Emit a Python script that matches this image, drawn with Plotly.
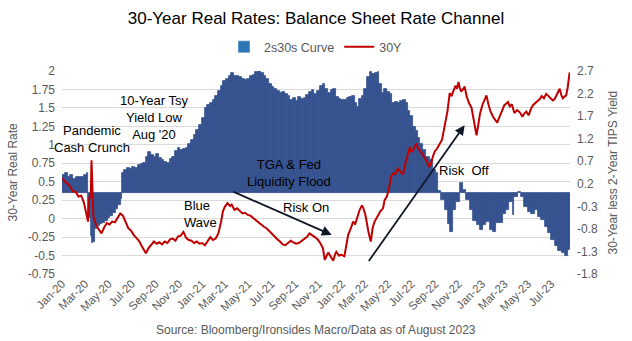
import pandas as pd
import plotly.graph_objects as go

# ---------------- data ----------------
curve_dates = [
    "2020-01-02","2020-01-09","2020-01-16","2020-01-23","2020-01-30","2020-02-06","2020-02-13","2020-02-20",
    "2020-02-27","2020-03-05","2020-03-10","2020-03-16","2020-03-19","2020-03-23","2020-03-27","2020-04-01",
    "2020-04-08","2020-04-15","2020-04-22","2020-04-29","2020-05-06","2020-05-13","2020-05-20","2020-05-27",
    "2020-06-02","2020-06-05","2020-06-12","2020-06-19","2020-06-26","2020-07-03","2020-07-10","2020-07-17",
    "2020-07-24","2020-07-31","2020-08-07","2020-08-13","2020-08-20","2020-08-27","2020-09-03","2020-09-10",
    "2020-09-17","2020-09-24","2020-10-01","2020-10-08","2020-10-15","2020-10-22","2020-10-29","2020-11-05",
    "2020-11-12","2020-11-19","2020-11-26","2020-12-03","2020-12-10","2020-12-17","2020-12-24","2020-12-31",
    "2021-01-07","2021-01-14","2021-01-21","2021-01-28","2021-02-04","2021-02-11","2021-02-18","2021-02-25",
    "2021-03-04","2021-03-11","2021-03-18","2021-03-25","2021-04-01","2021-04-08","2021-04-15","2021-04-22",
    "2021-04-29","2021-05-06","2021-05-13","2021-05-20","2021-05-27","2021-06-03","2021-06-10","2021-06-17",
    "2021-06-24","2021-07-01","2021-07-08","2021-07-15","2021-07-22","2021-07-29","2021-08-05","2021-08-12",
    "2021-08-19","2021-08-26","2021-09-02","2021-09-09","2021-09-16","2021-09-23","2021-09-30","2021-10-07",
    "2021-10-14","2021-10-21","2021-10-28","2021-11-04","2021-11-11","2021-11-18","2021-11-25","2021-12-02",
    "2021-12-09","2021-12-16","2021-12-23","2021-12-30","2022-01-06","2022-01-13","2022-01-20","2022-01-27",
    "2022-02-03","2022-02-08","2022-02-14","2022-02-21","2022-02-28","2022-03-06","2022-03-14","2022-03-21",
    "2022-03-28","2022-04-04","2022-04-08","2022-04-14","2022-04-21","2022-04-28","2022-05-05","2022-05-12",
    "2022-05-19","2022-05-26","2022-06-02","2022-06-09","2022-06-16","2022-06-23","2022-06-27","2022-07-05",
    "2022-07-12","2022-07-19","2022-07-23","2022-07-31","2022-08-09","2022-08-18","2022-08-26","2022-09-02",
    "2022-09-08","2022-09-17","2022-09-26","2022-10-05","2022-10-09","2022-10-18","2022-10-26","2022-11-04",
    "2022-11-13","2022-11-21","2022-11-30","2022-12-09","2022-12-18","2022-12-26","2023-01-04","2023-01-13",
    "2023-01-21","2023-01-30","2023-02-08","2023-02-16","2023-02-25","2023-03-06","2023-03-14","2023-03-23",
    "2023-03-27","2023-04-05","2023-04-14","2023-04-22","2023-05-01","2023-05-10","2023-05-19","2023-05-27",
    "2023-06-05","2023-06-14","2023-06-22","2023-07-01","2023-07-11","2023-07-19","2023-07-28","2023-08-05",
    "2023-08-13","2023-08-18",
]
curve_2s30s = [
    0.40,0.43,0.36,0.39,0.30,0.34,0.36,0.35,
    0.40,0.43,-0.55,-0.95,-1.12,-1.08,-0.80,-0.74,
    -0.70,-0.67,-0.62,-0.55,-0.52,-0.45,-0.37,-0.28,
    -0.14,0.45,0.50,0.56,0.52,0.58,0.56,0.61,
    0.63,0.66,0.80,0.91,0.84,0.80,0.87,0.78,
    0.72,0.68,0.66,0.74,0.80,0.92,0.99,0.95,
    0.96,1.00,1.08,1.17,1.28,1.40,1.50,1.66,
    1.88,1.95,2.00,2.06,2.15,2.26,2.36,2.47,
    2.52,2.60,2.66,2.60,2.58,2.56,2.52,2.49,
    2.53,2.58,2.62,2.68,2.72,2.66,2.58,2.52,
    2.42,2.35,2.30,2.26,2.22,2.24,2.20,2.14,
    2.06,2.10,2.04,2.12,2.08,2.10,2.16,2.24,
    2.28,2.20,2.26,2.36,2.42,2.30,2.22,2.28,
    2.30,2.12,2.08,2.05,2.06,2.10,2.12,2.15,
    2.00,1.90,2.08,2.15,2.30,2.57,2.68,2.63,
    2.66,2.68,2.42,2.22,2.30,2.24,2.18,1.98,
    2.02,1.98,2.04,2.05,1.98,1.82,1.70,1.46,
    1.36,1.22,1.09,0.94,0.80,0.72,0.50,0.43,
    0.04,-0.16,-0.38,-0.70,-0.86,-0.38,-0.20,0.21,
    0.06,-0.16,-0.38,-0.63,-0.72,-0.82,-0.72,-0.65,
    -0.82,-0.86,-0.68,-0.68,-0.46,-0.39,-0.20,-0.50,
    -0.09,0.02,-0.09,-0.31,-0.42,-0.46,-0.38,-0.53,
    -0.60,-0.75,-0.90,-1.05,-1.19,-1.30,-1.34,-1.41,
    -1.27,-1.19,
]

real_dates = [
    "2020-01-02","2020-01-09","2020-01-16","2020-01-23","2020-01-30","2020-02-06","2020-02-13","2020-02-20",
    "2020-02-27","2020-03-04","2020-03-09","2020-03-12","2020-03-16","2020-03-18","2020-03-20","2020-03-23",
    "2020-03-30","2020-04-06","2020-04-13","2020-04-20","2020-04-27","2020-05-04","2020-05-11","2020-05-18",
    "2020-05-25","2020-06-01","2020-06-08","2020-06-15","2020-06-22","2020-06-29","2020-07-06","2020-07-13",
    "2020-07-20","2020-07-27","2020-08-03","2020-08-07","2020-08-14","2020-08-21","2020-08-28","2020-09-04",
    "2020-09-11","2020-09-18","2020-09-25","2020-10-02","2020-10-09","2020-10-16","2020-10-23","2020-10-30",
    "2020-11-06","2020-11-13","2020-11-20","2020-11-27","2020-12-04","2020-12-11","2020-12-18","2020-12-25",
    "2021-01-01","2021-01-08","2021-01-15","2021-01-22","2021-01-29","2021-02-05","2021-02-12","2021-02-19",
    "2021-02-24","2021-03-01","2021-03-08","2021-03-15","2021-03-19","2021-03-26","2021-04-02","2021-04-09",
    "2021-04-16","2021-04-23","2021-04-30","2021-05-07","2021-05-14","2021-05-21","2021-05-28","2021-06-04",
    "2021-06-11","2021-06-18","2021-06-25","2021-07-02","2021-07-09","2021-07-16","2021-07-23","2021-07-30",
    "2021-08-06","2021-08-13","2021-08-20","2021-08-27","2021-09-03","2021-09-10","2021-09-17","2021-09-24",
    "2021-10-01","2021-10-08","2021-10-15","2021-10-22","2021-10-29","2021-11-05","2021-11-12","2021-11-17",
    "2021-11-22","2021-11-26","2021-12-03","2021-12-09","2021-12-14","2021-12-17","2021-12-24","2021-12-31",
    "2022-01-07","2022-01-12","2022-01-17","2022-01-24","2022-01-30","2022-02-04","2022-02-10","2022-02-16",
    "2022-02-22","2022-02-25","2022-03-03","2022-03-07","2022-03-11","2022-03-17","2022-03-22","2022-03-27",
    "2022-04-04","2022-04-11","2022-04-18","2022-04-22","2022-04-28","2022-05-03","2022-05-09","2022-05-16",
    "2022-05-20","2022-05-27","2022-06-03","2022-06-09","2022-06-14","2022-06-20","2022-06-27","2022-07-01",
    "2022-07-06","2022-07-14","2022-07-19","2022-07-25","2022-07-31","2022-08-05","2022-08-10","2022-08-16",
    "2022-08-22","2022-08-26","2022-08-31","2022-09-06","2022-09-13","2022-09-19","2022-09-26","2022-10-03",
    "2022-10-09","2022-10-14","2022-10-18","2022-10-24","2022-10-28","2022-11-01","2022-11-04","2022-11-08",
    "2022-11-14","2022-11-17","2022-11-22","2022-11-28","2022-12-05","2022-12-09","2022-12-13","2022-12-18",
    "2022-12-22","2022-12-27","2023-01-03","2023-01-09","2023-01-13","2023-01-18","2023-01-23","2023-01-30",
    "2023-02-06","2023-02-10","2023-02-16","2023-02-22","2023-03-01","2023-03-06","2023-03-10","2023-03-15",
    "2023-03-20","2023-03-27","2023-04-03","2023-04-10","2023-04-17","2023-04-21","2023-04-27","2023-05-03",
    "2023-05-10","2023-05-15","2023-05-19","2023-05-25","2023-06-01","2023-06-06","2023-06-12","2023-06-18",
    "2023-06-23","2023-06-27","2023-07-05","2023-07-10","2023-07-14","2023-07-19","2023-07-23","2023-07-27",
    "2023-07-31","2023-08-04","2023-08-09","2023-08-13","2023-08-16","2023-08-18",
]
real_30y = [
    0.55,0.50,0.47,0.43,0.37,0.36,0.30,0.31,
    0.22,0.09,-0.04,0.28,0.30,0.79,0.32,0.03,
    -0.09,-0.14,-0.20,-0.12,-0.06,-0.08,-0.04,-0.05,
    0.02,0.07,0.04,-0.04,-0.13,-0.16,-0.22,-0.26,
    -0.30,-0.37,-0.44,-0.47,-0.40,-0.36,-0.31,-0.34,
    -0.32,-0.35,-0.31,-0.33,-0.28,-0.27,-0.30,-0.24,
    -0.23,-0.18,-0.26,-0.29,-0.30,-0.33,-0.31,-0.34,
    -0.33,-0.36,-0.30,-0.25,-0.29,-0.27,-0.20,-0.05,
    0.10,0.16,0.21,0.17,0.19,0.12,0.14,0.11,
    0.07,0.08,0.05,0.04,0.01,-0.02,-0.06,-0.08,
    -0.11,-0.13,-0.17,-0.20,-0.24,-0.28,-0.31,-0.35,
    -0.36,-0.33,-0.30,-0.32,-0.34,-0.33,-0.30,-0.28,
    -0.25,-0.20,-0.22,-0.25,-0.28,-0.33,-0.40,-0.56,
    -0.50,-0.46,-0.52,-0.57,-0.48,-0.45,-0.50,-0.49,
    -0.51,-0.38,-0.22,-0.13,-0.04,-0.08,0.03,0.12,
    0.18,0.15,0.05,-0.10,-0.18,-0.31,-0.12,-0.04,
    0.03,0.10,0.14,0.25,0.30,0.40,0.57,0.62,
    0.60,0.68,0.63,0.60,0.72,0.82,0.97,0.90,
    0.93,1.02,0.95,0.91,0.86,0.82,0.78,0.70,
    0.76,0.84,0.91,0.95,1.02,1.07,1.26,1.45,
    1.70,1.66,1.72,1.80,1.76,1.85,1.78,1.72,
    1.76,1.79,1.66,1.57,1.50,1.38,1.28,1.13,
    1.25,1.42,1.55,1.62,1.67,1.55,1.46,1.38,
    1.32,1.30,1.38,1.46,1.54,1.56,1.58,1.52,
    1.55,1.43,1.47,1.44,1.38,1.42,1.45,1.40,
    1.50,1.54,1.56,1.58,1.62,1.66,1.63,1.69,
    1.66,1.64,1.60,1.62,1.66,1.70,1.76,1.68,
    1.63,1.65,1.67,1.78,1.90,1.98,
]

left_ticks = [2, 1.75, 1.5, 1.25, 1, 0.75, 0.5, 0.25, 0, -0.25, -0.5, -0.75]
left_labels = ["2", "1.75", "1.5", "1.25", "1", "0.75", "0.5", "0.25", "0", "-0.25", "-0.5", "-0.75"]
right_ticks = [2.7, 2.2, 1.7, 1.2, 0.7, 0.2, -0.3, -0.8, -1.3, -1.8]
right_labels = ["2.7", "2.2", "1.7", "1.2", "0.7", "0.2", "-0.3", "-0.8", "-1.3", "-1.8"]

# ---------------- figure ----------------
FONT = "Arial, 'Liberation Sans', sans-serif"
GREY = "#595959"
BAR = "#36538F"

cd = pd.to_datetime(pd.Series(curve_dates))
gaps = cd.shift(-1) - cd
gaps.iloc[-1] = pd.Timedelta(days=2)
widths_ms = (gaps.dt.total_seconds() * 1000).tolist()

fig = go.Figure()
# legend swatch for the curve
fig.add_trace(go.Bar(x=[None], y=[None], name="2s30s Curve", marker_color="#2E75B6",
                     yaxis="y", showlegend=True))
fig.add_trace(go.Scatter(x=real_dates, y=real_30y, name="30Y", mode="lines",
                         line=dict(color="#C00000", width=2), yaxis="y2"))
fig.add_trace(go.Bar(x=curve_dates, y=curve_2s30s, name="2s30s Curve", showlegend=False,
                     width=widths_ms, offset=0,
                     marker=dict(color=BAR, line=dict(width=0.8, color=BAR)),
                     yaxis="y"))

fig.update_layout(
    width=632, height=341,
    margin=dict(l=62, r=62, t=71, b=67),
    paper_bgcolor="white", plot_bgcolor="white",
    font=dict(family=FONT, size=12, color=GREY),
    barmode="overlay", bargap=0,
    title=dict(text="30-Year Real Rates: Balance Sheet Rate Channel", x=0.5, xanchor="center",
               y=1 - 18 / 341, yanchor="middle", yref="container",
               font=dict(family=FONT, size=17, color="black")),
    legend=dict(orientation="h", x=0.5, xanchor="center", y=1.117, yanchor="middle",
                font=dict(family=FONT, size=12.5, color=GREY), bgcolor="rgba(0,0,0,0)",
                itemwidth=30),
    xaxis=dict(type="date", range=["2020-01-01", "2023-08-19"], dtick="M2", tick0="2020-01-01",
               tickformat="%b-%y", tickangle=-45, showgrid=False, zeroline=False, showline=False,
               ticks="", tickfont=dict(size=11.5, color=GREY)),
    yaxis=dict(range=[-1.8, 2.7], side="right", tickvals=right_ticks, ticktext=right_labels,
               showgrid=False, zeroline=False, showline=False, ticks="", ticklabelstandoff=6,
               tickfont=dict(size=12, color=GREY)),
    yaxis2=dict(range=[-0.75, 2], side="left", overlaying="y", tickvals=left_ticks,
                ticktext=left_labels, showgrid=True, gridcolor="#D9D9D9", gridwidth=1,
                zeroline=False, showline=False, ticks="", ticklabelstandoff=6,
                tickfont=dict(size=12, color=GREY)),
)

# axis titles
fig.add_annotation(text="30-Year Real Rate", xref="paper", yref="paper", x=(12 - 62) / 508, y=0.5,
                   textangle=-90, showarrow=False, font=dict(size=12, color=GREY),
                   xanchor="center", yanchor="middle")
fig.add_annotation(text="30-Year less 2-Year TIPS Yield", xref="paper", yref="paper",
                   x=(612 - 62) / 508, y=0.5, textangle=-90, showarrow=False,
                   font=dict(size=12, color=GREY), xanchor="center", yanchor="middle")
# source
fig.add_annotation(text="Source: Bloomberg/Ironsides Macro/Data as of August 2023", xref="paper",
                   yref="paper", x=0.5, y=-(330 - 274) / 203.3, showarrow=False,
                   font=dict(size=12, color=GREY), xanchor="center", yanchor="middle")

# text labels
labels = [
    ("Pandemic<br>Cash Crunch", "2020-03-20", 1.077, "center"),
    ("10-Year Tsy<br>Yield Low<br>Aug '20", "2020-08-28", 1.37, "center"),
    ("ARP", "2021-03-23", 2.10, "center"),
    ("TGA & Fed<br>Liquidity Flood", "2021-08-16", 0.613, "center"),
    ("Blue<br>Wave", "2020-12-28", 0.063, "left"),
    ("Risk On", "2021-09-29", 0.145, "center"),
    ("Risk&nbsp; Off", "2022-11-14", 0.658, "center"),
]
for txt, xd, yv, al in labels:
    fig.add_annotation(text=txt, x=xd, y=yv, xref="x", yref="y2", showarrow=False, align=al,
                       font=dict(family=FONT, size=13, color="black"),
                       xanchor="center", yanchor="middle")

# arrows
arrows = [
    (("2021-12-05", -0.22), ("2021-03-19", 0.374)),
    (("2022-11-17", 1.266), ("2022-03-09", -0.595)),
]
for (hx, hy), (tx, ty) in arrows:
    fig.add_annotation(x=hx, y=hy, ax=tx, ay=ty, xref="x", yref="y2", axref="x", ayref="y2",
                       text="", showarrow=True, arrowhead=2, arrowsize=1.1, arrowwidth=1.8,
                       arrowcolor="#101828", standoff=0, startstandoff=0)

fig.write_html("out.html")
